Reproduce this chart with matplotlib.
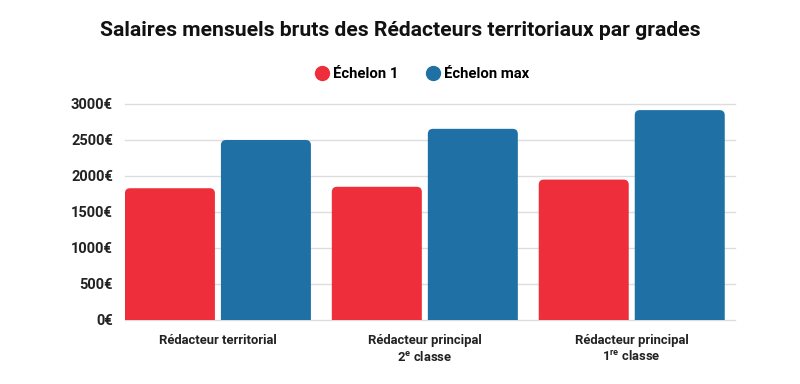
import matplotlib
matplotlib.use("Agg")
import matplotlib.pyplot as plt
from matplotlib.patches import FancyBboxPatch
from matplotlib.lines import Line2D
import numpy as np

plt.rcParams['font.family'] = ['Roboto', 'DejaVu Sans']
plt.rcParams['mathtext.fontset'] = 'custom'
plt.rcParams['mathtext.rm'] = 'Roboto:bold'
plt.rcParams['mathtext.it'] = 'Roboto:bold'
plt.rcParams['mathtext.bf'] = 'Roboto:bold'

# data
grades = ["Rédacteur territorial",
          "Rédacteur principal\n2$^{\\mathrm{e}}$ classe",
          "Rédacteur principal\n1$^{\\mathrm{re}}$ classe"]
echelon_1 = [1830, 1850, 1950]
echelon_max = [2500, 2655, 2915]
yticks = [0, 500, 1000, 1500, 2000, 2500, 3000]

red = "#EE2E3B"
blue = "#1F71A5"

fig = plt.figure(figsize=(8, 3.84), dpi=100)
ax = fig.add_axes([0.156, 0.1667, 0.763, 0.5625])

x = np.arange(len(grades))
w = 0.435
gap = 0.029
b1 = ax.bar(x - w / 2 - gap / 2, echelon_1, w, bottom=0, color=red)
b2 = ax.bar(x + w / 2 + gap / 2, echelon_max, w, bottom=0, color=blue)

ax.set_xlim(-0.45, 2.5)
ax.set_ylim(0, 3000)

# rounded tops: replace rectangles with rounded patches (bottom hidden under axis)
fig.canvas.draw()
bbox = ax.get_window_extent()
xr = ax.get_xlim()[1] - ax.get_xlim()[0]
yr = ax.get_ylim()[1] - ax.get_ylim()[0]
aspect = (yr / bbox.height) / (xr / bbox.width)
for bars in (b1, b2):
    for p in bars:
        px, pw, ph = p.get_x(), p.get_width(), p.get_height()
        r = 0.025
        fb = FancyBboxPatch((px, -200), pw, ph + 200,
                            boxstyle="round,pad=0,rounding_size=%f" % r,
                            mutation_aspect=aspect,
                            facecolor=p.get_facecolor(), edgecolor="none",
                            zorder=2, clip_on=True)
        ax.add_patch(fb)
        p.set_visible(False)

ax.set_yticks(yticks)
ax.set_yticklabels([f"{v}€" for v in yticks], fontsize=10.5, fontweight="bold", color="#222222")
ax.set_xticks(x)
ax.set_xticklabels(grades, fontsize=9.4, fontweight="bold", color="#222222", linespacing=1.25)
ax.tick_params(axis="both", length=0)
ax.tick_params(axis="y", pad=8.5)
ax.tick_params(axis="x", pad=10)
ax.grid(axis="y", color="#DDDDDD", linewidth=1)
for ax_grid in ax.get_ygridlines():
    ax_grid.set_clip_on(False)
ax.set_axisbelow(True)
for s in ax.spines.values():
    s.set_visible(False)

fig.text(0.5, 0.92, "Salaires mensuels bruts des Rédacteurs territoriaux par grades",
         ha="center", va="center", fontsize=15.2, fontweight="bold", color="#111111")

handles = [Line2D([], [], marker="o", linestyle="none", markersize=10, color=red),
           Line2D([], [], marker="o", linestyle="none", markersize=10, color=blue)]
fig.legend(handles, ["Échelon 1", "Échelon max"], loc="center", bbox_to_anchor=(0.528, 0.808),
           ncol=2, frameon=False, prop={"weight": "bold", "size": 10.7},
           handlelength=0.8, handletextpad=0.35, columnspacing=1.9)

fig.savefig("out.png", dpi=100, facecolor="white")
